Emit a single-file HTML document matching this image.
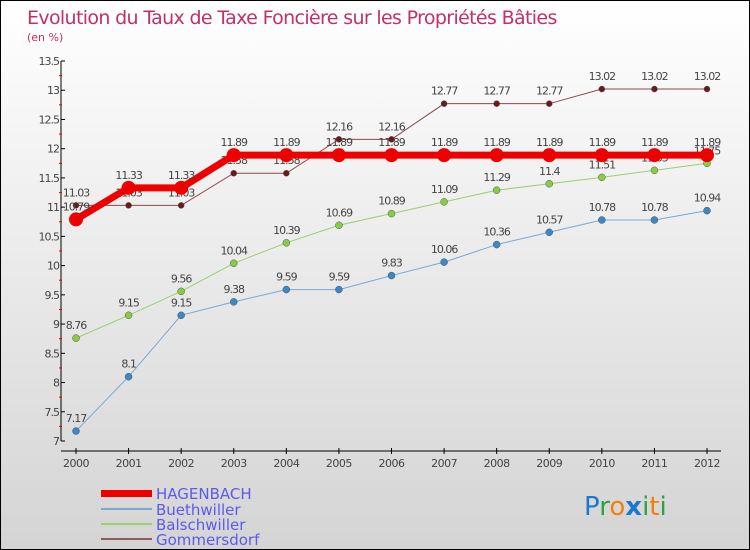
<!DOCTYPE html>
<html><head><meta charset="utf-8"><style>
body{margin:0}
#wrap{position:relative;width:748px;height:548px;border:1px solid #000;background:linear-gradient(#ffffff,#d4d4d4);overflow:hidden;font-family:"DejaVu Sans","Liberation Sans",sans-serif}
</style></head><body>
<div id="wrap">
<svg id="svg" width="748" height="548">
<text x="26" y="23" font-size="19" fill="#c0306a" font-family="DejaVu Sans,sans-serif" letter-spacing="-0.65">Evolution du Taux de Taxe Foncière sur les Propriétés Bâties</text>
<text x="26" y="40" font-size="11" fill="#c0306a">(en %)</text>
<g id="axes"></g><g id="series"></g>
<g>
<rect x="100" y="489" width="51" height="7" fill="#ee0000"/>
<text x="155" y="498" font-size="15" fill="#5a5aee">HAGENBACH</text>
<rect x="100" y="507" width="51" height="2" fill="#79a8d0"/>
<text x="155" y="514" font-size="15" fill="#5a5aee">Buethwiller</text>
<rect x="100" y="522" width="51" height="2" fill="#99d070"/>
<text x="155" y="529" font-size="15" fill="#5a5aee">Balschwiller</text>
<rect x="100" y="537" width="51" height="2" fill="#8a5a5a"/>
<text x="155" y="544" font-size="15" fill="#5a5aee">Gommersdorf</text>
</g>
<text x="583" y="514" font-size="26" font-family="DejaVu Sans,sans-serif"><tspan fill="#1a78d0">P</tspan><tspan fill="#30a040">r</tspan><tspan fill="#f08010">o</tspan><tspan fill="#1a78d0" font-weight="bold">x</tspan><tspan fill="#30a040">i</tspan><tspan fill="#f08010">t</tspan><tspan fill="#30a040">i</tspan></text>
</svg>
</div>
<script>
const years=[2000,2001,2002,2003,2004,2005,2006,2007,2008,2009,2010,2011,2012];
const hagenbach=[10.79,11.33,11.33,11.89,11.89,11.89,11.89,11.89,11.89,11.89,11.89,11.89,11.89];
const buethwiller=[7.17,8.1,9.15,9.38,9.59,9.59,9.83,10.06,10.36,10.57,10.78,10.78,10.94];
const balschwiller=[8.76,9.15,9.56,10.04,10.39,10.69,10.89,11.09,11.29,11.4,11.51,11.63,11.75];
const gommersdorf=[11.03,11.03,11.03,11.58,11.58,12.16,12.16,12.77,12.77,12.77,13.02,13.02,13.02];
const yTicks=[7,7.5,8,8.5,9,9.5,10,10.5,11,11.5,12,12.5,13,13.5];
const NS="http://www.w3.org/2000/svg";
const yMin=7,yMax=13.5,yTop=60,yBot=440;
function X(i){return 75+i*(706-75)/(years.length-1);}
function Y(v){return yBot-(v-yMin)*(yBot-yTop)/(yMax-yMin);}
function mk(tag,attrs,parent){const e=document.createElementNS(NS,tag);for(const k in attrs)e.setAttribute(k,attrs[k]);parent.appendChild(e);return e;}
const ax=document.getElementById('axes');
const yl=mk('line',{x1:60,y1:yTop,x2:60,y2:yBot,stroke:'#000'},ax);


const xl=mk('line',{x1:60,y1:450,x2:720,y2:450,stroke:'#000'},ax);


yTicks.forEach(t=>{
  const y=Y(t);
  mk('line',{x1:60,y1:y,x2:64,y2:y,stroke:'#000'},ax);
  const m=Y(t+0.25);
  if(t<yMax)mk('line',{x1:58,y1:m,x2:61,y2:m,stroke:'#e00'},ax);
  const tx=mk('text',{x:58,y:y+4,'font-size':11,fill:'#444','text-anchor':'end','letter-spacing':'-1'},ax);
  tx.textContent=String(t);
  
  
});
years.forEach((yr,i)=>{
  const x=X(i);
  mk('line',{x1:x,y1:447,x2:x,y2:453,stroke:'#000'},ax);
  const tx=mk('text',{x:x,y:466,'font-size':11,fill:'#444','text-anchor':'middle','letter-spacing':'-0.5'},ax);
  tx.textContent=String(yr);
  
  
});
const sg=document.getElementById('series');
function series(name,data,color,ptColor,w,r){
  const g=mk('g',{},sg);
  
  
  const pl=mk('polyline',{points:data.map((v,i)=>X(i)+','+Y(v)).join(' '),fill:'none',stroke:color,'stroke-width':w},g);
  
  
  data.forEach((v,i)=>{
    const c=mk('circle',{cx:X(i),cy:Y(v),r:r,fill:ptColor,stroke:r>5?'none':'#555','stroke-width':0.5},g);
    
    
    const t=mk('text',{x:X(i),y:Y(v)-9,'font-size':11,fill:'#444','text-anchor':'middle','letter-spacing':'-1'},g);
    t.textContent=String(v);
    
    
  });
}
series('gommersdorf',gommersdorf,'#8a4a4a','#6a1a1a',1,3);
series('balschwiller',balschwiller,'#99d070','#88cc44',1,3.5);
series('buethwiller',buethwiller,'#79a8d0','#3a88c8',1,3.5);
series('hagenbach',hagenbach,'#ee0000','#ee0000',7,7);
</script>
</body></html>
